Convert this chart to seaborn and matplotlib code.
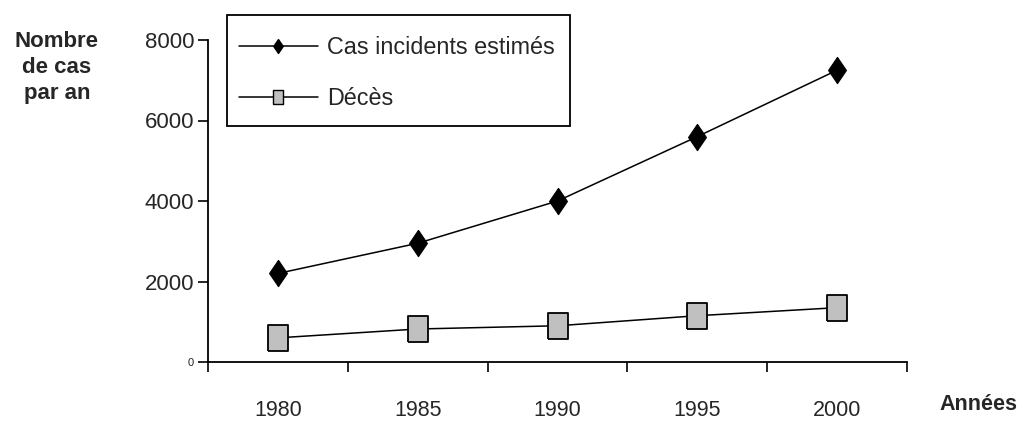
import matplotlib
matplotlib.use("Agg")
import matplotlib.pyplot as plt
from matplotlib.lines import Line2D
from matplotlib.patches import Rectangle
import seaborn as sns

# data
annees = ["1980", "1985", "1990", "1995", "2000"]
cas_incidents = [2200, 2950, 4000, 5600, 7250]
deces = [600, 820, 900, 1150, 1350]

sns.set_style("white")
plt.rcParams['font.family'] = ['Liberation Sans', 'DejaVu Sans']

# tall diamond and tall rectangle, as in the original Excel chart
diamond = [(0, 1), (0.68, 0), (0, -1), (-0.68, 0), (0, 1)]
rect = [(-0.75, -1), (0.75, -1), (0.75, 1), (-0.75, 1), (-0.75, -1)]

W, H = 1023, 421
fig = plt.figure(figsize=(W/100, H/100), dpi=100)
ax = fig.add_axes([208/W, 1 - 362/H, (907 - 208)/W, (362 - 40)/H])

pos = list(range(len(annees)))
sns.lineplot(x=pos, y=cas_incidents, ax=ax, color='black', linewidth=1.1,
             marker=diamond, markersize=19, markerfacecolor='black',
             markeredgecolor='black')
sns.lineplot(x=pos, y=deces, ax=ax, color='black', linewidth=1.1,
             marker=rect, markersize=19, markerfacecolor='#c0c0c0',
             markeredgecolor='black', markeredgewidth=1.3)

ax.set_xlim(-0.5, 4.5)
ax.set_ylim(0, 8000)
ax.set_xticks(pos)
ax.set_xticklabels(annees, fontsize=15.5)
ax.set_xticks([p - 0.5 for p in range(len(annees) + 1)], minor=True)
ax.tick_params(axis='x', which='major', length=0, pad=27)
ax.tick_params(axis='x', which='minor', length=7, width=1.2, direction='out',
               color='black', bottom=True)
ax.set_yticks([0, 2000, 4000, 6000, 8000])
ax.set_yticklabels(["0", "2000", "4000", "6000", "8000"], fontsize=16)
ax.get_yticklabels()[0].set_fontsize(8)
ax.tick_params(axis='y', length=7, width=1.2, direction='out', color='black',
               pad=3, left=True)

for s in ['top', 'right']:
    ax.spines[s].set_visible(False)
for s in ['left', 'bottom']:
    ax.spines[s].set_color('black')
    ax.spines[s].set_linewidth(1.3)

# labels
fig.text(57/W, 1 - 31/H, "Nombre\nde cas\npar an", ha='center', va='top',
         fontsize=16, fontweight='bold', linespacing=1.3)
fig.text(978/W, 1 - 405/H, "Années", ha='center', va='center',
         fontsize=15.5, fontweight='bold')

# legend: entries without frame, box drawn separately
handles = [
    Line2D([], [], color='black', linewidth=1.1, marker=diamond, markersize=10,
           markerfacecolor='black', markeredgecolor='black'),
    Line2D([], [], color='black', linewidth=1.1, marker=rect, markersize=10,
           markerfacecolor='#c0c0c0', markeredgecolor='black'),
]
fig.legend(handles, ["Cas incidents estimés", "Décès"], loc='upper left',
           bbox_to_anchor=(227/W, 1 - 24/H), fontsize=16.8,
           handlelength=3.4, handletextpad=0.4, labelspacing=1.2,
           borderpad=0.5, borderaxespad=0, frameon=False)
fig.patches.append(Rectangle((227/W, 1 - 126/H), (570 - 227)/W, (126 - 15)/H,
                             transform=fig.transFigure, fill=False,
                             edgecolor='black', linewidth=1.3))

fig.savefig("out.png", dpi=100)
